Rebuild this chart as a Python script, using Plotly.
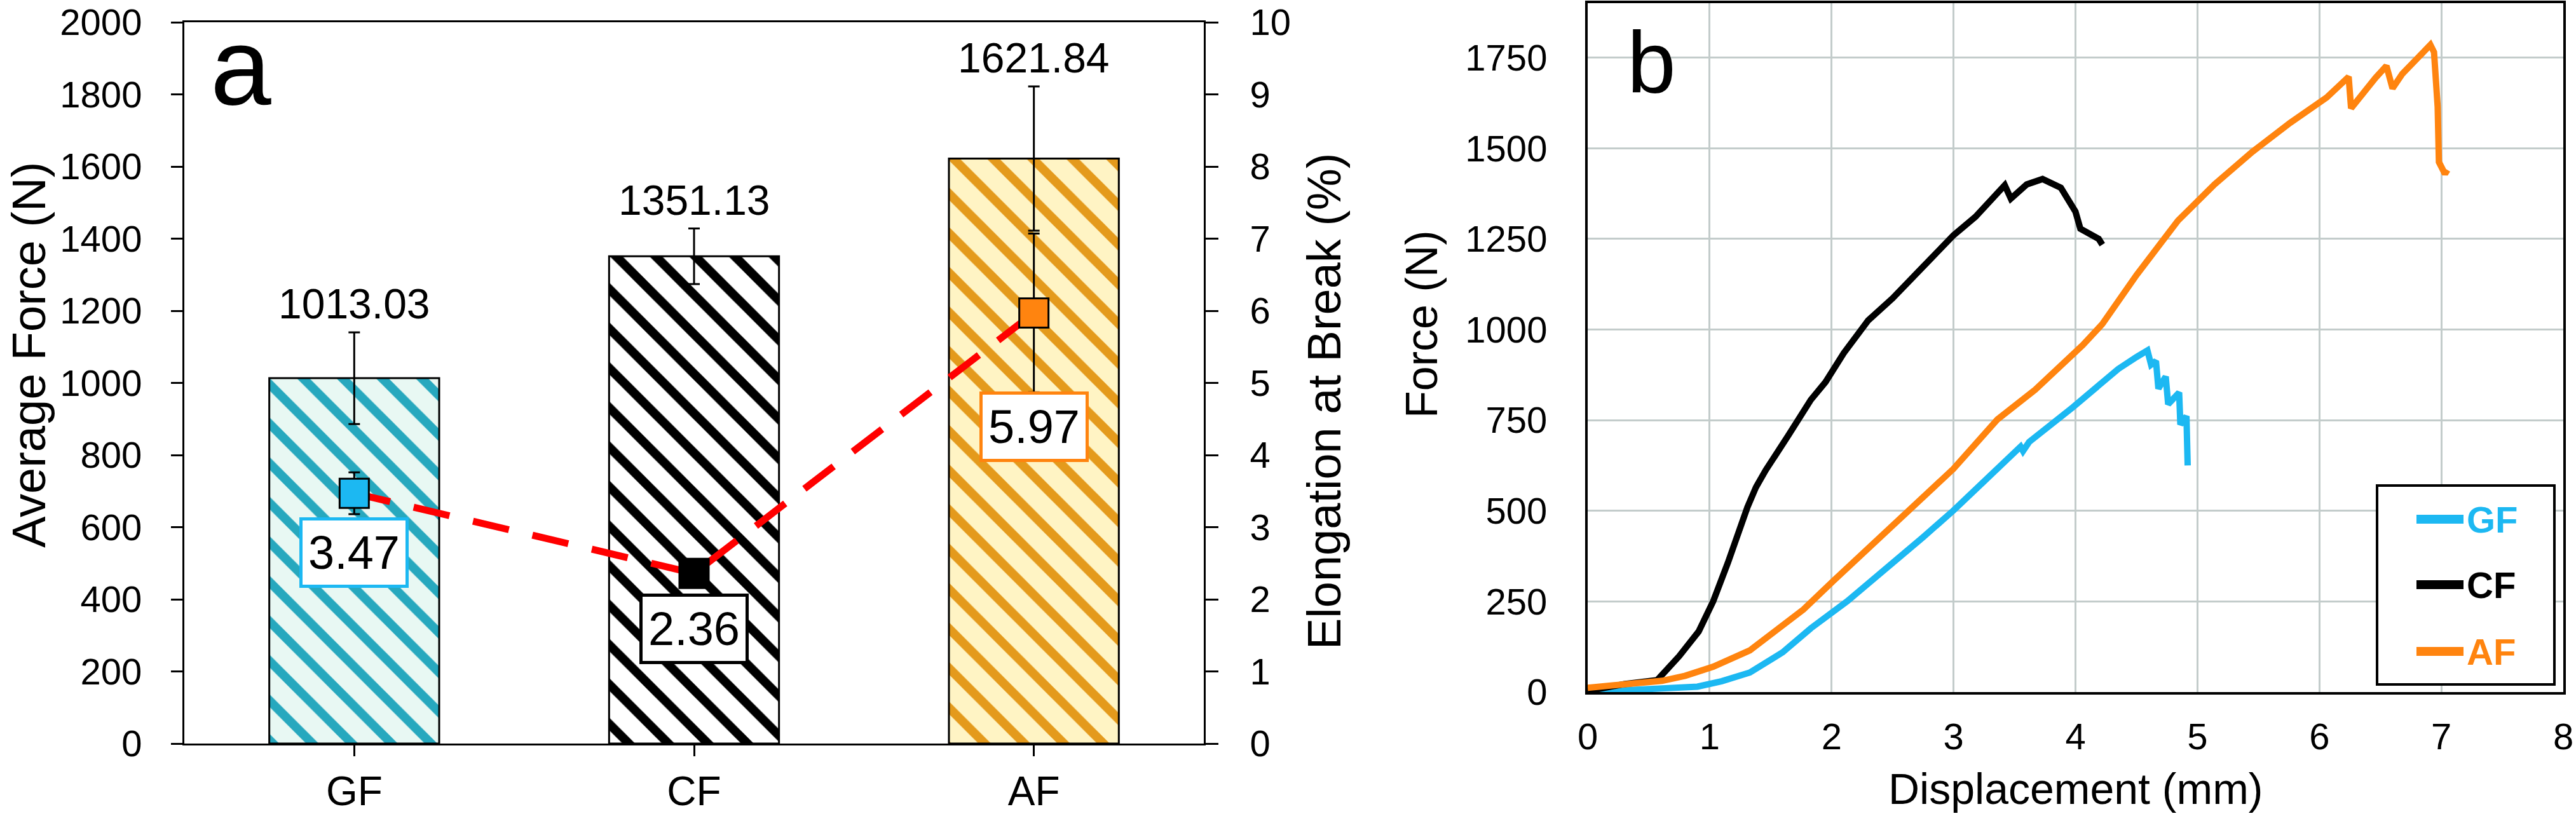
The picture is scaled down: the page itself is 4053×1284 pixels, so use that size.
import plotly.graph_objects as go

# ---------------- data ----------------
categories = ["GF", "CF", "AF"]
avg_force = [1013.03, 1351.13, 1621.84]
avg_force_err = [127, 77, 200]
elongation = [3.47, 2.36, 5.97]
elongation_err = [0.29, 0.15, 1.1]
force_labels = ["1013.03", "1351.13", "1621.84"]
elong_labels = ["3.47", "2.36", "5.97"]

gf_disp = [0, 0.3, 0.6, 0.9, 1.1, 1.33, 1.6, 1.83, 2.13, 2.45, 2.75, 3.0, 3.3, 3.55, 3.57,
           3.62, 3.98, 4.35, 4.5, 4.59, 4.62, 4.66, 4.68, 4.74, 4.76, 4.78, 4.85, 4.86, 4.91, 4.92]
gf_force = [0, 4, 9, 15, 30, 54, 110, 176, 251, 340, 427, 501, 600, 677, 665,
            690, 786, 891, 924, 942, 903, 913, 837, 870, 794, 800, 826, 738, 761, 625]

cf_disp = [0, 0.3, 0.57, 0.75, 0.91, 1.03, 1.15, 1.22, 1.31, 1.38, 1.46, 1.64, 1.83, 1.95, 2.1,
           2.3, 2.5, 2.75, 3.0, 3.18, 3.42, 3.47, 3.6, 3.73, 3.88, 4.0, 4.04, 4.19, 4.22]
cf_force = [3, 22, 33, 99, 167, 251, 357, 430, 510, 565, 612, 705, 806, 855, 935,
            1025, 1086, 1173, 1260, 1311, 1398, 1361, 1400, 1415, 1391, 1325, 1278, 1250, 1234]

af_disp = [0, 0.3, 0.61, 0.8, 1.03, 1.33, 1.77, 2.01, 2.44, 3.0, 3.36, 3.67, 4.06, 4.22, 4.5,
           4.84, 5.14, 5.45, 5.76, 6.06, 6.24, 6.26, 6.46, 6.55, 6.6, 6.68, 6.91, 6.94, 6.97,
           6.98, 7.03, 7.05]
af_force = [12, 20, 31, 45, 70, 115, 228, 305, 441, 616, 752, 834, 957, 1015, 1150,
            1300, 1400, 1490, 1570, 1640, 1697, 1610, 1694, 1727, 1665, 1705, 1785, 1765, 1614,
            1462, 1429, 1440]

# ---------------- style ----------------
FONT = "Arial, Liberation Sans, sans-serif"
BLUE = "#1cb8f2"
ORANGE = "#ff840f"
BLACK = "#000000"
marker_colors = [BLUE, BLACK, ORANGE]

W, H = 4053, 1284


def px(xpix):
    return xpix / W


def py(ypix):
    return (H - ypix) / H


fig = go.Figure()

# Panel a: bars (average force)
fig.add_trace(go.Bar(
    x=categories, y=avg_force, width=0.5,
    xaxis="x", yaxis="y",
    marker=dict(
        color="white",
        line=dict(color="black", width=3),
        pattern=dict(shape="\\", size=44, solidity=0.32,
                     fgcolor=["#27a8be", "#000000", "#e49a1c"],
                     bgcolor=["#e8f8f3", "#ffffff", "#fff4c4"],
                     fgopacity=1),
    ),
    error_y=dict(type="data", array=avg_force_err, color="black", thickness=3, width=9),
    showlegend=False,
))

# Panel a: elongation (secondary axis)
fig.add_trace(go.Scatter(
    x=categories, y=elongation, xaxis="x", yaxis="y2",
    mode="lines+markers",
    line=dict(color="#ff0000", width=11, dash="58px,38px"),
    marker=dict(symbol="square", size=46, color=marker_colors,
                line=dict(color="black", width=3)),
    error_y=dict(type="data", array=elongation_err, color="black", thickness=3, width=9),
    showlegend=False,
))

# Panel b: force-displacement curves
for xs, ys, col, nm in [(gf_disp, gf_force, BLUE, "GF"),
                        (cf_disp, cf_force, BLACK, "CF"),
                        (af_disp, af_force, ORANGE, "AF")]:
    fig.add_trace(go.Scatter(
        x=xs, y=ys, xaxis="x2", yaxis="y3", mode="lines",
        line=dict(color=col, width=10), name=nm, showlegend=False,
    ))

axis_font = dict(family=FONT, size=58, color="black")

fig.update_layout(
    width=W, height=H,
    margin=dict(l=0, r=0, t=0, b=0, autoexpand=False),
    paper_bgcolor="white", plot_bgcolor="white",
    font=dict(family=FONT, color="black"),
    showlegend=False,
    xaxis=dict(domain=[px(290), px(1894)], range=[-0.5, 2.5], type="category",
               showline=True, linecolor="black", linewidth=3, mirror=True,
               ticks="outside", ticklen=17, tickwidth=3, tickcolor="black",
               ticklabelstandoff=0, tickfont=dict(family=FONT, size=64, color="black"),
               showgrid=False, zeroline=False, automargin=False, ticklabeloverflow="allow"),
    yaxis=dict(domain=[py(1170), py(35)], range=[0, 2000], dtick=200,
               showline=True, linecolor="black", linewidth=3,
               ticks="outside", ticklen=18, tickwidth=3, tickcolor="black",
               ticklabelstandoff=34, tickfont=axis_font, showgrid=False, zeroline=False,
               automargin=False, ticklabeloverflow="allow"),
    yaxis2=dict(overlaying="y", side="right", range=[0, 10], dtick=1, anchor="x",
                showline=True, linecolor="black", linewidth=3,
                ticks="outside", ticklen=20, tickwidth=3, tickcolor="black",
                ticklabelstandoff=38, tickfont=axis_font, showgrid=False, zeroline=False,
                automargin=False, ticklabeloverflow="allow"),
    xaxis2=dict(domain=[px(2498), px(4033)], range=[0, 8], dtick=1, anchor="y3",
                showline=True, linecolor="black", linewidth=4, mirror=True,
                showgrid=True, gridcolor="#c3cccb", gridwidth=3,
                ticks="", ticklabelstandoff=16, tickfont=axis_font, zeroline=False,
                automargin=False, ticklabeloverflow="allow"),
    yaxis3=dict(domain=[py(1089), py(5)], range=[0, 1900], dtick=250, anchor="x2",
                showline=True, linecolor="black", linewidth=4, mirror=True,
                showgrid=True, gridcolor="#c3cccb", gridwidth=3,
                ticks="", ticklabelstandoff=48, tickfont=axis_font, zeroline=False,
                automargin=False, ticklabeloverflow="allow"),
)

ann = []
# force labels above error bars
for c, v, e, t in zip(categories, avg_force, avg_force_err, force_labels):
    ann.append(dict(x=c, y=v + e, xref="x", yref="y", text=t, showarrow=False,
                    xanchor="center", yanchor="middle", yshift=45,
                    font=dict(family=FONT, size=66)))
# elongation value boxes
shifts = [-93, -87, -179]
for c, v, t, col, s in zip(categories, elongation, elong_labels, marker_colors, shifts):
    ann.append(dict(x=c, y=v, xref="x", yref="y2", text=t, showarrow=False,
                    xanchor="center", yanchor="middle", yshift=s,
                    font=dict(family=FONT, size=74),
                    bgcolor="white", bordercolor=col, borderwidth=5, borderpad=9))


def title(text, xp, yp, size, angle=0):
    return dict(x=px(xp), y=py(yp), xref="paper", yref="paper", text=text,
                textangle=angle, showarrow=False, xanchor="center", yanchor="middle",
                font=dict(family=FONT, size=size, color="black"))


ann += [
    title("Average Force (N)", 45, 559, 74, -90),
    title("Elongation at Break (%)", 2083, 631, 74, -90),
    title("Force (N)", 2237, 510, 70, -90),
    title("Displacement (mm)", 3265, 1241, 68),
    title("a", 379, 104, 172),
    title("b", 2598, 98, 138),
]

# legend box (panel b)
legend_rows = [817, 920, 1025]
shapes = [dict(type="rect", xref="paper", yref="paper",
               x0=px(3740), x1=px(4019), y0=py(1077), y1=py(764),
               line=dict(color="black", width=4), fillcolor="white", layer="above")]
for nm, col, yr in zip(categories, marker_colors, legend_rows):
    shapes.append(dict(type="line", xref="paper", yref="paper",
                       x0=px(3802), x1=px(3876), y0=py(yr), y1=py(yr),
                       line=dict(color=col, width=14), layer="above"))
    ann.append(dict(x=px(3879), y=py(yr), xref="paper", yref="paper",
                    text="<b>%s</b>" % nm, showarrow=False, xanchor="left", yanchor="middle",
                    font=dict(family=FONT, size=58, color=col)))

fig.update_layout(annotations=ann, shapes=shapes)

fig.write_html("out.html")
